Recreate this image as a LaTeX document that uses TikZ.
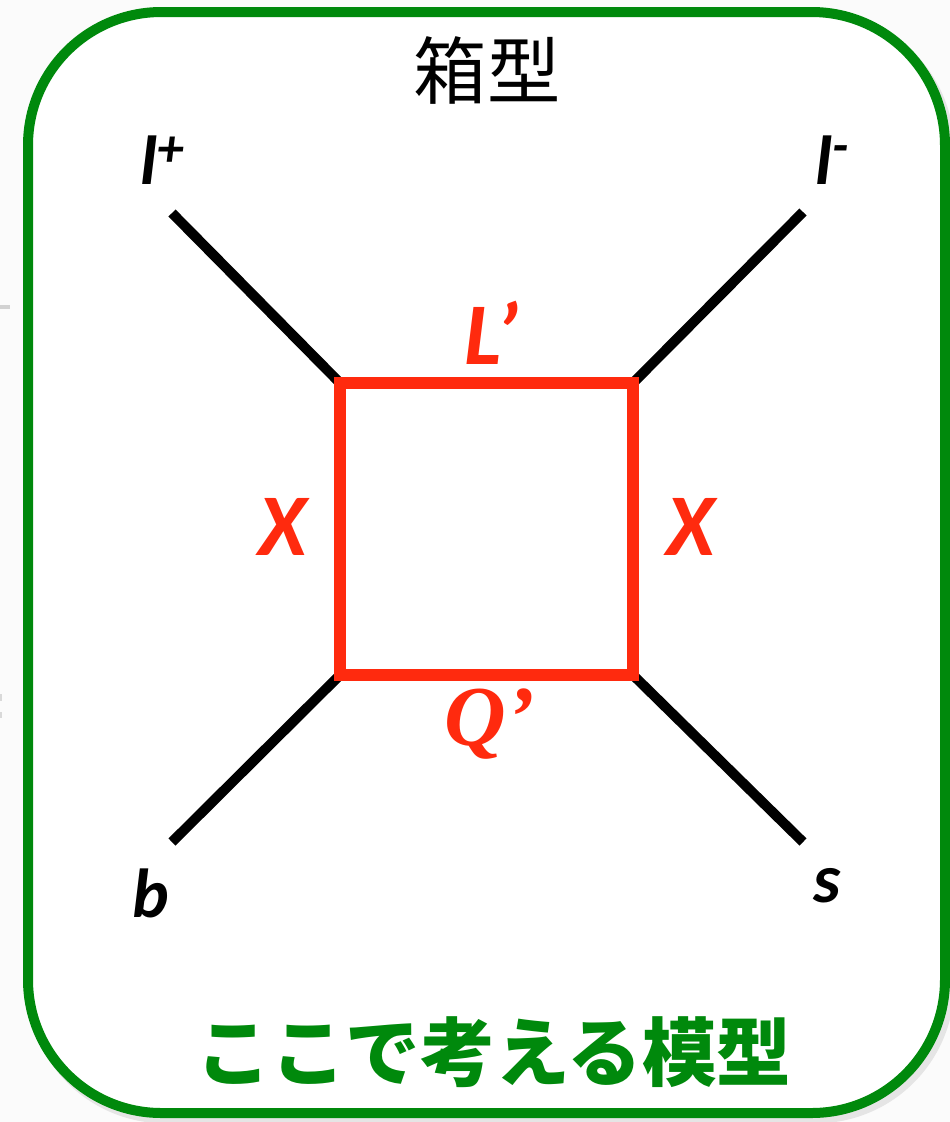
\documentclass[tikz,border=0pt]{standalone}
\usepackage{fontspec}
\newfontfamily\cjk{Noto Sans CJK JP}
\newfontfamily\labfont{Carlito}
\newfontfamily\qfont{Liberation Serif}
\definecolor{boxgreen}{RGB}{0,137,12}
\definecolor{loopred}{RGB}{255,42,14}
\tikzset{
  frame/.style={draw=boxgreen, line width=7.5pt, fill=white, rounded corners=100pt},
  leg/.style={draw=black, line width=7.5pt},
  loop/.style={draw=loopred, line width=9pt, line join=miter},
  extlab/.style={font=\labfont\bfseries\itshape\fontsize{52pt}{60pt}\selectfont, text=black, inner sep=0pt},
  redlab/.style={font=\labfont\bfseries\itshape\fontsize{66pt}{72pt}\selectfont, text=loopred, inner sep=0pt},
  qlab/.style={font=\qfont\bfseries\itshape\fontsize{64pt}{70pt}\selectfont, text=loopred, inner sep=0pt},
  title/.style={font=\cjk\fontsize{55pt}{60pt}\selectfont, text=black, inner sep=0pt},
  caption/.style={font=\cjk\bfseries\fontsize{56pt}{60pt}\selectfont, text=boxgreen, inner sep=0pt}
}
\begin{document}
\begin{tikzpicture}[x=0.75pt,y=-0.75pt]
\useasboundingbox (0,0) rectangle (950,1122);
\fill[gray!3] (0,0) rectangle (950,1122);
% stray fragments at left edge
\fill[gray!35] (0,305) rectangle (10,309);
\fill[gray!30] (0,694) rectangle (2,701);
\fill[gray!30] (0,712) rectangle (2,718);
% shadow
\draw[black!10, line width=8pt, rounded corners=100pt] (32,17) rectangle (949,1118);
% frame
\path[frame] (28,12) rectangle (945,1113);

% title and caption
\node[title] (ttl) at (487,70) {箱型};
\node[caption] (cap) at (494,1052) {ここで考える模型};

% loop corners
\coordinate (A) at (340,383);
\coordinate (B) at (633,383);
\coordinate (C) at (633,675);
\coordinate (D) at (340,675);
% external ends
\coordinate (eA) at (172,213);
\coordinate (eB) at (803,212);
\coordinate (eC) at (803,842);
\coordinate (eD) at (172,842);

\draw[leg] (eA) -- (A);
\draw[leg] (eB) -- (B);
\draw[leg] (eC) -- (C);
\draw[leg] (eD) -- (D);
\draw[loop] (A) -- (B) -- (C) -- (D) -- cycle;

% labels
\node[extlab] (lp) at (162,160) {l\raisebox{0.26em}{\fontsize{40pt}{42pt}\selectfont +}};
\node[extlab] (lm) at (832,160) {l\raisebox{0.30em}{\fontsize{40pt}{42pt}\selectfont -}};
\node[extlab] (qb) at (151,893) {b};
\node[extlab] (qs) at (827,886) {s};
\node[redlab] (Lp) at (491,333) {L’};
\node[redlab] (Xl) at (283,527) {X};
\node[redlab] (Xr) at (691,527) {X};
\node[qlab] (Qp) at (490,724) {Q’};
\end{tikzpicture}
\end{document}
